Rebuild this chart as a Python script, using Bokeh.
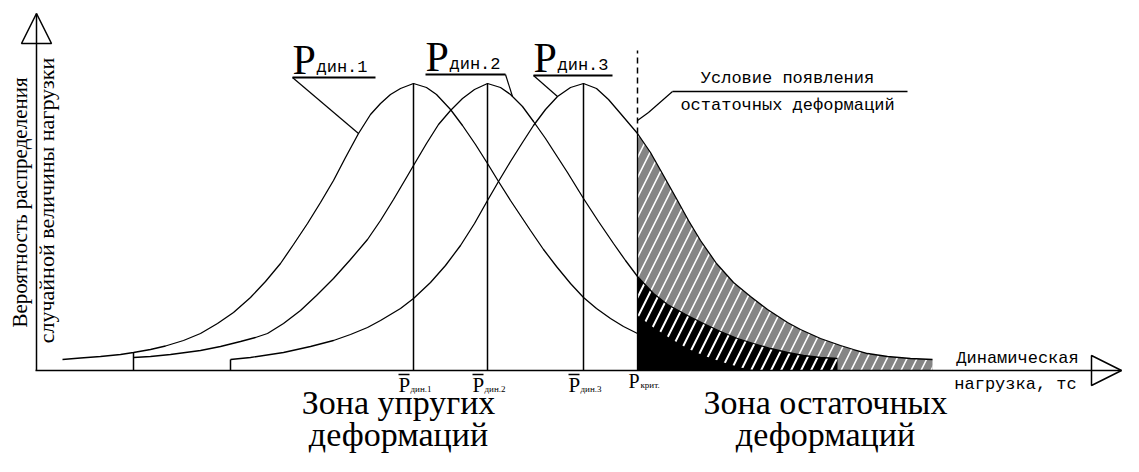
import numpy as np
from bokeh.plotting import figure
from bokeh.models import Range1d, Arrow, NormalHead
from bokeh.core.properties import value
from bokeh.embed import file_html
from bokeh.resources import INLINE

# ---- data (x = dynamic load, h = probability density, arbitrary units)
curve1_x = [62, 80, 100, 120, 133, 150, 165, 183, 200, 217, 233, 250, 265, 280, 293, 307, 320, 333, 345, 358,
            370, 380, 390, 400, 413, 426, 436, 450, 462, 475, 487, 498, 510, 520, 530, 543, 556, 570, 583, 596,
            610, 623, 637]
curve1_h = [11, 12.5, 14, 16, 18, 21, 24.5, 30, 37, 47, 58, 73, 89, 107, 126, 147, 168, 190, 213, 237,
            256, 267, 276, 282, 287, 283, 276, 261, 245, 226, 207, 189, 170, 155, 140, 121, 104, 87, 73, 62,
            52, 44, 37]

curve2_x = [133, 150, 170, 200, 220, 240, 255, 267, 283, 300, 316, 333, 350, 367, 380, 393, 406, 413, 426, 438,
            450, 462, 474, 487, 500, 510, 522, 533, 545, 556, 567, 583, 598, 613, 625, 637, 653, 667, 687, 703,
            720, 737, 753, 770, 787, 803, 820, 837]
curve2_h = [13, 14, 16, 20, 24, 29, 33, 37, 47, 60, 75, 92, 111, 131, 150, 171, 193, 205, 227, 246,
            260, 272, 281, 287, 283, 276, 264, 249, 232, 215, 198, 172, 149, 127, 110, 94, 77, 66, 55, 47,
            39, 32, 27, 22, 18, 15, 13, 12]

curve3_x = [230, 250, 283, 310, 333, 350, 367, 380, 400, 413, 430, 445, 460, 474, 487, 498, 510, 522, 533, 545,
            557, 570, 583, 596, 608, 620, 637, 650, 663, 677, 688, 700, 716, 733, 750, 767, 787, 800, 820, 840,
            853, 867, 887, 910, 932]
curve3_h = [11, 13, 18, 24, 30, 36, 43, 50, 62, 72, 88, 105, 125, 147, 170, 189, 209, 228, 245, 261,
            274, 283, 287, 282, 271, 257, 237, 218, 195, 170, 150, 130, 107, 88, 74, 61, 48, 41, 32, 25,
            21, 17, 14, 12, 11]

means = [413, 487, 583]
peak_h = [287, 287, 287]
mean_labels = ["дин.1", "дин.2", "дин.3"]
tail_tick_x = [133, 230]
tail_tick_h = [18, 11]
crit_x = 637
crit_label = "крит."
band_x = [637, 653, 670, 687, 703, 720, 740, 755]
band_h = [55, 43, 32, 22, 15, 9, 3, 0]

# ---- figure
p = figure(width=1123, height=456, x_range=Range1d(0, 1123), y_range=Range1d(-86, 370),
           output_backend="svg", toolbar_location=None, min_border=0,
           x_axis_location=None, y_axis_location=None, outline_line_color=None)
p.grid.visible = False

c1x, c1h = np.array(curve1_x, float), np.array(curve1_h, float)
c2x, c2h = np.array(curve2_x, float), np.array(curve2_h, float)
c3x, c3h = np.array(curve3_x, float), np.array(curve3_h, float)

# gray hatched area under curve 3 beyond P_crit
m3 = c3x >= crit_x
gx = np.concatenate([[crit_x], c3x[m3], [c3x[m3][-1]]])
gy = np.concatenate([[0], c3h[m3], [0]])
p.patch(gx, gy, fill_color="#858585", line_color=None,
        hatch_pattern="/", hatch_color="white", hatch_scale=20, hatch_weight=1.6)

# black area under curve 2 beyond P_crit
m2 = c2x >= crit_x
bx = np.concatenate([[crit_x], c2x[m2], [c2x[m2][-1]]])
by = np.concatenate([[0], c2h[m2], [0]])
p.patch(bx, by, fill_color="black", line_color=None)

# white dashes in the upper band of the black area
bdx = np.concatenate([c2x[m2], [c2x[m2][-1]], np.array(band_x[::-1], float)])
bdy = np.concatenate([c2h[m2], [0], np.array(band_h[::-1], float)])
p.patch(bdx, bdy, fill_alpha=0, line_color=None,
        hatch_pattern="/", hatch_color="white", hatch_scale=20, hatch_weight=2)

# curves
for cx, ch in ((c1x, c1h), (c2x, c2h), (c3x, c3h)):
    p.line(cx, ch, line_color="black", line_width=1.3)

# mean verticals and tail ticks
p.segment(x0=means, y0=[0] * 3, x1=means, y1=peak_h, line_color="black", line_width=1.5)
p.segment(x0=tail_tick_x, y0=[0, 0], x1=tail_tick_x, y1=tail_tick_h, line_color="black", line_width=1.5)

# critical load line
h_crit = float(c3h[c3x == crit_x][0])
p.segment(x0=[crit_x], y0=[0], x1=[crit_x], y1=[h_crit], line_color="black", line_width=1.3)
p.segment(x0=[crit_x], y0=[h_crit], x1=[crit_x], y1=[h_crit + 83], line_color="black",
          line_width=1.5, line_dash="6 4")

# axes with arrows
x_tip, y_tip = 1121, 357
p.segment(x0=[35], y0=[0], x1=[x_tip], y1=[0], line_color="black", line_width=1.5)
p.segment(x0=[36], y0=[0], x1=[36], y1=[y_tip], line_color="black", line_width=1.5)
for xs, ys, xe, ye in ((35, 0, x_tip, 0), (36, 0, 36, y_tip)):
    p.add_layout(Arrow(end=NormalHead(size=30, fill_alpha=0, line_color="black", line_width=1.5),
                       x_start=xs, y_start=ys, x_end=xe, y_end=ye, line_alpha=0))

serif = value("Liberation Serif")
mono = value("Liberation Mono")

# curve name labels P_дин.i with underline and leader
name_x = [292, 425, 533]
name_y = [298, 301, 300]          # baseline level of the label
name_w = [83, 80, 79]
lead_to_x = [358, 512, 557]
lead_from_right = [False, True, False]
for i in range(3):
    p.text(x=[name_x[i]], y=[name_y[i] + 13], text=["P"], text_font=serif, text_font_size="42px",
           text_align="left", text_baseline="middle", text_color="black")
    p.text(x=[name_x[i] + 24], y=[name_y[i] + 5], text=[mean_labels[i]], text_font=mono,
           text_font_size="17px", text_align="left", text_baseline="middle", text_color="black")
    uy = name_y[i] - 5
    p.segment(x0=[name_x[i]], y0=[uy], x1=[name_x[i] + name_w[i]], y1=[uy], line_color="black", line_width=2)
    cx, ch = [(c1x, c1h), (c2x, c2h), (c3x, c3h)][i]
    ly = float(np.interp(lead_to_x[i], cx, ch))
    sx = name_x[i] + name_w[i] if lead_from_right[i] else name_x[i]
    p.segment(x0=[sx], y0=[uy], x1=[lead_to_x[i]], y1=[ly], line_color="black", line_width=1.2)

# condition label
p.text(x=[787], y=[292], text=["Условие появления"], text_font=mono, text_font_size="17px",
       text_align="center", text_baseline="middle", text_color="black")
p.text(x=[787], y=[265], text=["остаточных деформаций"], text_font=mono, text_font_size="17px",
       text_align="center", text_baseline="middle", text_color="black")
p.segment(x0=[672], y0=[279], x1=[907], y1=[279], line_color="black", line_width=1.5)
p.line(x=[672, 648, crit_x], y=[279, 258, 250], line_color="black", line_width=1.2)

# x axis title
p.text(x=[1017], y=[12], text=["Динамическая"], text_font=mono, text_font_size="17px",
       text_align="center", text_baseline="middle", text_color="black")
p.text(x=[1015], y=[-14], text=["нагрузка, тс"], text_font=mono, text_font_size="17px",
       text_align="center", text_baseline="middle", text_color="black")

# y axis title
p.text(x=[19], y=[168], text=["Вероятность распределения"], text_font=serif, text_font_size="21px",
       angle=np.pi / 2, text_align="center", text_baseline="middle", text_color="black")
p.text(x=[46], y=[170], text=["случайной величины нагрузки"], text_font=serif, text_font_size="22px",
       angle=np.pi / 2, text_align="center", text_baseline="middle", text_color="black")

# mean tick labels  P̄_дин.i
p.text(x=means, y=[-14] * 3, text=["P"] * 3, x_offset=-15, text_font=serif, text_font_size="21px",
       text_align="left", text_baseline="middle", text_color="black")
p.text(x=means, y=[-18] * 3, text=mean_labels, x_offset=-3, text_font=serif, text_font_size="9px",
       text_align="left", text_baseline="middle", text_color="black")
p.segment(x0=[m - 15 for m in means], y0=[-4] * 3, x1=[m - 4 for m in means], y1=[-4] * 3,
          line_color="black", line_width=1.5)
p.text(x=[crit_x], y=[-10], text=["P"], x_offset=-9, text_font=serif, text_font_size="20px",
       text_align="left", text_baseline="middle", text_color="black")
p.text(x=[crit_x], y=[-14], text=[crit_label], x_offset=3, text_font=serif, text_font_size="9px",
       text_align="left", text_baseline="middle", text_color="black")

# zone labels
for cx_, l1, l2 in ((398, "Зона упругих", "деформаций"), (825, "Зона остаточных", "деформаций")):
    p.text(x=[cx_], y=[-32], text=[l1], text_font=serif, text_font_size="34px",
           text_align="center", text_baseline="middle", text_color="black")
    p.text(x=[cx_], y=[-64], text=[l2], text_font=serif, text_font_size="34px",
           text_align="center", text_baseline="middle", text_color="black")

open("out.html", "w").write(file_html(p, INLINE))
